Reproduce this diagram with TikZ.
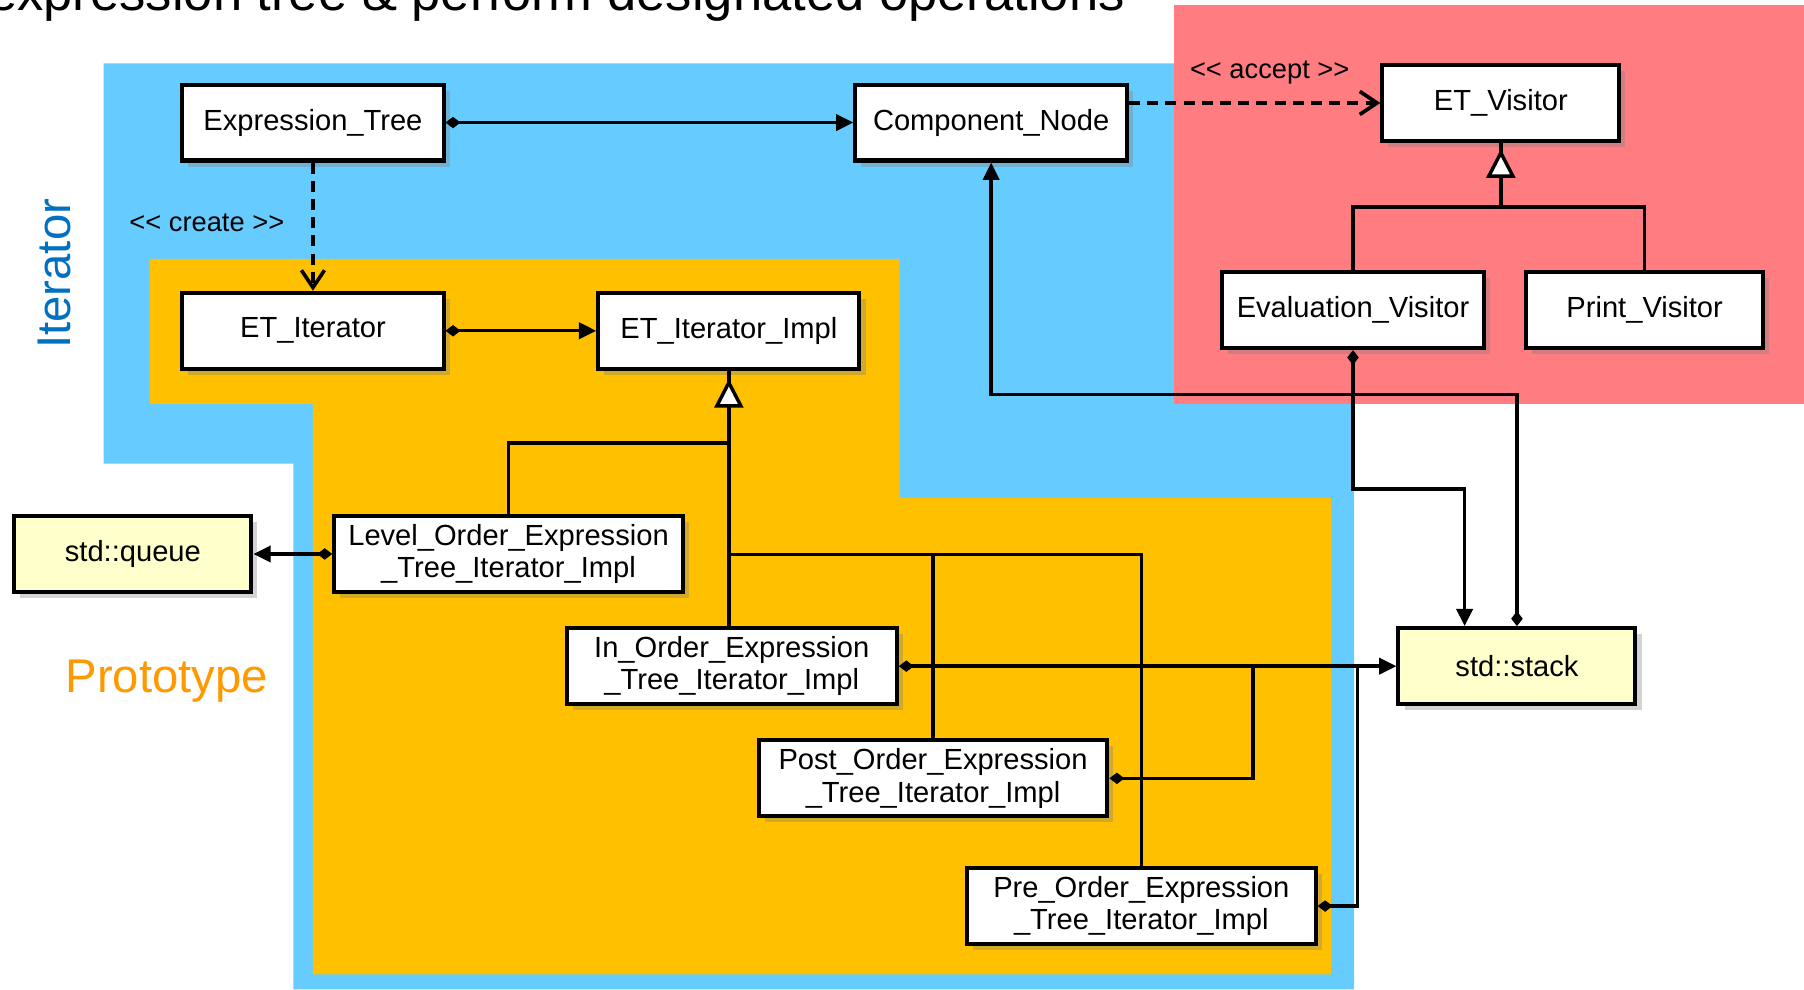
\documentclass[tikz,border=0pt]{standalone}
\usepackage{fontspec}
\setmainfont{Liberation Sans}
\usepackage{tikz}
\usetikzlibrary{arrows.meta, shadows}
\definecolor{iterbg}{HTML}{66CCFF}
\definecolor{protobg}{HTML}{FFC000}
\definecolor{visitbg}{HTML}{FF7C80}
\definecolor{libfill}{HTML}{FFFFCC}
\definecolor{iterblue}{HTML}{0070C0}
\definecolor{protoorange}{HTML}{FF9900}
\newcommand{\clsfont}{\fontsize{14.4}{16}\selectfont}
\newcommand{\stereo}[1]{<\kern0pt< #1 >\kern0pt>}
\tikzset{
  cls/.style={rectangle, draw=black, fill=white, line width=2pt,
    minimum height=1.32cm, align=center, font=\clsfont, inner sep=2pt,
    drop shadow={opacity=0.35, shadow xshift=3pt, shadow yshift=-3pt}},
  libcls/.style={cls, fill=libfill},
  conn/.style={line width=1.7pt, color=black},
  agg/.style={conn, {Diamond[length=0.26cm,width=0.2cm]}-{Triangle[length=0.3cm,width=0.28cm]}},
  aggend/.style={conn, {Diamond[length=0.26cm,width=0.2cm]}-},
  dep/.style={-{Straight Barb[length=0.3cm,width=0.4cm]}, line width=1.8pt,
    dash pattern=on 5.5pt off 3.5pt},
  gen/.style={conn, -{Triangle[open, fill=white, length=0.5cm, width=0.5cm]}},
  stereolbl/.style={font=\fontsize{13.5}{16}\selectfont},
  patlbl/.style={font=\fontsize{23.4}{28}\selectfont, inner sep=0pt}
}

\begin{document}
\begin{tikzpicture}[x=0.2mm, y=-0.2mm]
  \useasboundingbox (0,0) rectangle (1568,860);
  \clip (0,0) rectangle (1568,860);

  % pattern regions
  \fill[iterbg] (90,55) -- (1177,55) -- (1177,860) -- (255,860) -- (255,403) -- (90,403) -- cycle;
  \fill[protobg] (130,225) -- (782,225) -- (782,433) -- (1157,433) -- (1157,847)
    -- (272,847) -- (272,351) -- (130,351) -- cycle;
  \fill[visitbg] (1020,4) rectangle (1568,351);

  % title (cut at the top)
  \node[anchor=base east, font=\fontsize{26}{30}\selectfont, inner sep=0pt] (title) at (978,9)
    {expression tree \& perform designated operations};

  % pattern names
  \node[patlbl, text=iterblue, rotate=90, anchor=base] (iterlbl) at (61,238) {Iterator};
  \node[patlbl, text=protoorange, anchor=base] (protolbl) at (145,602) {Prototype};

  % classes
  \node[cls, minimum width=4.54cm] (exptree) at (272,106.5) {Expression\_Tree};
  \node[cls, minimum width=4.72cm] (compnode) at (861.5,106.5) {Component\_Node};
  \node[cls, minimum width=4.12cm] (etvisitor) at (1304.5,89.5) {ET\_Visitor};
  \node[cls, minimum width=4.54cm] (etiter) at (272,287.5) {ET\_Iterator};
  \node[cls, minimum width=4.54cm] (etimpl) at (633.5,287.5) {ET\_Iterator\_Impl};
  \node[cls, minimum width=4.54cm] (evalvisitor) at (1176,269.5) {Evaluation\_Visitor};
  \node[cls, minimum width=4.12cm] (printvisitor) at (1429.5,269.5) {Print\_Visitor};
  \node[libcls, minimum width=4.12cm] (queue) at (115.5,481.5) {std::queue};
  \node[cls, minimum width=6.06cm] (levelorder) at (442,481.5) {Level\_Order\_Expression\\\_Tree\_Iterator\_Impl};
  \node[cls, minimum width=5.74cm] (inorder) at (636,579) {In\_Order\_Expression\\\_Tree\_Iterator\_Impl};
  \node[cls, minimum width=6.06cm] (postorder) at (811,676.5) {Post\_Order\_Expression\\\_Tree\_Iterator\_Impl};
  \node[cls, minimum width=6.06cm] (preorder) at (992,787.5) {Pre\_Order\_Expression\\\_Tree\_Iterator\_Impl};
  \node[libcls, minimum width=4.12cm] (stack) at (1318.5,579) {std::stack};

  % bend points
  \coordinate (lvlbar) at (633.5,385);
  \coordinate (ordbar) at (633.5,482);
  \coordinate (postjoin) at (1089,579);
  \coordinate (prejoin) at (1180,579);
  \coordinate (evalbend) at (1273,425);
  \coordinate (stackbend) at (861.5,343);
  \coordinate (visbar) at (1304.5,180);

  % connectors
  \draw[agg] (exptree.east) -- (compnode.west);
  \draw[dep] (exptree.south) -- (etiter.north)
    node[stereolbl, pos=0.47, left=0.35cm] (createlbl) {\stereo{create}};
  \draw[dep] (compnode.east |- etvisitor.west) -- (etvisitor.west)
    node[stereolbl, pos=0.56, above=0.17cm] (acceptlbl) {\stereo{accept}};
  \draw[agg] (etiter.east) -- (etimpl.west);

  % iterator impl hierarchy
  \draw[conn] (etimpl.south |- inorder.north) -- (etimpl.south);
  \draw[gen] (etimpl.south |- inorder.north) -- ([yshift=-4pt]etimpl.south);
  \draw[conn] (levelorder.north) |- (lvlbar);
  \draw[conn] (ordbar) -| (postorder.north);
  \draw[conn] (ordbar) -| (preorder.north);

  % containers
  \draw[agg] (levelorder.west) -- (queue.east);
  \draw[agg] (inorder.east) -- (stack.west);
  \draw[aggend] (postorder.east) -| (postjoin);
  \draw[aggend] (preorder.east) -| (prejoin);
  \draw[agg] (evalvisitor.south) |- (evalbend) -- (evalbend |- stack.north);
  \draw[agg] (stack.north) |- (stackbend) -- (compnode.south);

  % visitor hierarchy
  \draw[conn] (etvisitor.south |- visbar) -- (etvisitor.south);
  \draw[gen] (etvisitor.south |- visbar) -- ([yshift=-3pt]etvisitor.south);
  \draw[conn] (evalvisitor.north) |- (visbar) -| (printvisitor.north);
\end{tikzpicture}
\end{document}
